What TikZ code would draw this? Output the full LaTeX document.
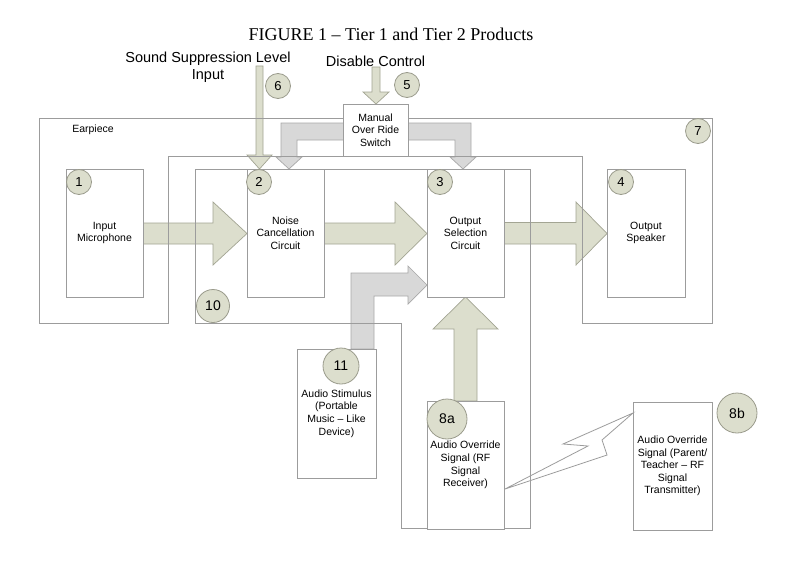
\documentclass[tikz,border=0pt]{standalone}
\usepackage{fontspec}
\setmainfont{Liberation Sans}
\newfontfamily\titlefont{Liberation Serif}
\definecolor{boxc}{HTML}{9C9C9C}
\definecolor{greenf}{HTML}{DCDECD}
\definecolor{greend}{HTML}{A3A593}
\definecolor{grayf}{HTML}{D8D8D8}
\definecolor{grayd}{HTML}{A8A8A8}
\definecolor{numd}{HTML}{9A9B8C}
\begin{document}
\begin{tikzpicture}[x=1pt,y=-1pt,
  frame/.style={draw=boxc, line width=0.9pt},
  blk/.style={draw=boxc, line width=0.9pt, fill=white, inner sep=0pt, align=center, font=\fontsize{10.5}{12.6}\selectfont},
  num/.style={circle, draw=numd, fill=greenf, line width=0.8pt, inner sep=0pt, minimum size=25pt, font=\fontsize{13}{13}\selectfont},
  bignum/.style={num, font=\fontsize{14}{14}\selectfont},
  garrow/.style={draw=greend, fill=greenf, line width=0.7pt},
  yarrow/.style={draw=grayd, fill=grayf, line width=0.7pt},
  bolt/.style={draw=boxc, line width=0.8pt, line join=miter},
  lbl/.style={font=\fontsize{14.5}{17}\selectfont, align=center, inner sep=0pt}
]
\useasboundingbox[fill=white] (0,0) rectangle (800,578);

% title and input labels
\node[font=\titlefont\fontsize{18}{20}\selectfont, inner sep=0pt] (title) at (391,34) {FIGURE 1 – Tier 1 and Tier 2 Products};
\node[lbl] (ssl) at (208,67.5) {Sound Suppression Level\\Input};
\node[lbl] (dis) at (375.5,61) {Disable Control};

% green block arrows
\path[garrow] (143,223) -- (213,223) -- (213,202) -- (247,233.5) -- (213,265) -- (213,244) -- (143,244) -- cycle;
\path[garrow] (324,223) -- (395,223) -- (395,202) -- (427,233.5) -- (395,265) -- (395,244) -- (324,244) -- cycle;
\path[garrow] (504,222.5) -- (576,222.5) -- (576,202) -- (607,233.5) -- (576,265) -- (576,244) -- (504,244) -- cycle;
\path[garrow] (454,401) -- (454,329) -- (433,329) -- (465.5,297) -- (498,329) -- (477,329) -- (477,401) -- cycle;
\path[garrow] (256,66) -- (256,155) -- (247,155) -- (259.5,169) -- (272,155) -- (263,155) -- (263,66) -- cycle;
\path[garrow] (372,67) -- (372,92) -- (363,92) -- (376,104) -- (389,92) -- (380,92) -- (380,67) -- cycle;

% gray block arrows
\path[yarrow] (351,349) -- (351,273) -- (408,273) -- (408,266) -- (427,285) -- (408,304) -- (408,296) -- (374,296) -- (374,349) -- cycle;
\path[yarrow] (350,123) -- (281,123) -- (281,157) -- (276,157) -- (289,169) -- (302,157) -- (297,157) -- (297,140) -- (350,140) -- cycle;
\path[yarrow] (400,123) -- (471,123) -- (471,157) -- (476,157) -- (463,169) -- (450,157) -- (455,157) -- (455,140) -- (400,140) -- cycle;

% frames
\draw[frame] (39,118) -- (712,118) -- (712,323) -- (582,323) -- (582,156) -- (168,156) -- (168,323) -- (39,323) -- cycle;
\draw[frame] (195,169) -- (530,169) -- (530,528.5) -- (401,528.5) -- (401,323) -- (195,323) -- cycle;
\node[font=\fontsize{10.5}{12.6}\selectfont, inner sep=0pt] (ear) at (93,130) {Earpiece};

% blocks
\node[blk, minimum width=65pt, minimum height=52pt] (man) at (375.5,130) {Manual\\Over Ride\\Switch};
\node[blk, minimum width=77pt, minimum height=128pt] (b1) at (104.5,233) {Input\\Microphone};
\node[blk, minimum width=77pt, minimum height=128pt] (b2) at (285.5,233) {Noise\\Cancellation\\Circuit};
\node[blk, minimum width=77pt, minimum height=128pt] (b3) at (465.5,233) {Output\\Selection\\Circuit};
\node[blk, minimum width=78pt, minimum height=128pt] (b4) at (646,233) {Output\\Speaker};
\node[blk, minimum width=79pt, minimum height=129pt] (b11) at (336.5,413.5) {Audio Stimulus\\(Portable\\Music – Like\\Device)};
\node[blk, minimum width=77pt, minimum height=128pt] (b8a) at (465.5,465) {Audio Override\\Signal (RF\\Signal\\Receiver)};
\node[blk, minimum width=79pt, minimum height=128pt] (b8b) at (672.5,466) {Audio Override\\Signal (Parent/\\Teacher – RF\\Signal\\Transmitter)};

% lightning bolt between receiver and transmitter
\coordinate (boltA) at (505,489);
\coordinate (boltD) at (633,413);
\draw[bolt] (boltA) -- (588,446) -- (563,444) -- (boltD) -- (602,440) -- (607,455) -- cycle;

% number circles
\node[num] (n1) at (79,182) {1};
\node[num] (n2) at (259,182) {2};
\node[num] (n3) at (440,182) {3};
\node[num] (n4) at (621,182) {4};
\node[num] (n5) at (407,85) {5};
\node[num] (n6) at (278,86) {6};
\node[num] (n7) at (698,131) {7};
\node[bignum, minimum size=33pt] (n10) at (213,306) {10};
\node[bignum, minimum size=36pt] (n11) at (341,366) {11};
\node[bignum, minimum size=40pt] (n8a) at (447,419) {8a};
\node[bignum, minimum size=40pt] (n8b) at (737,413) {8b};
\end{tikzpicture}
\end{document}
